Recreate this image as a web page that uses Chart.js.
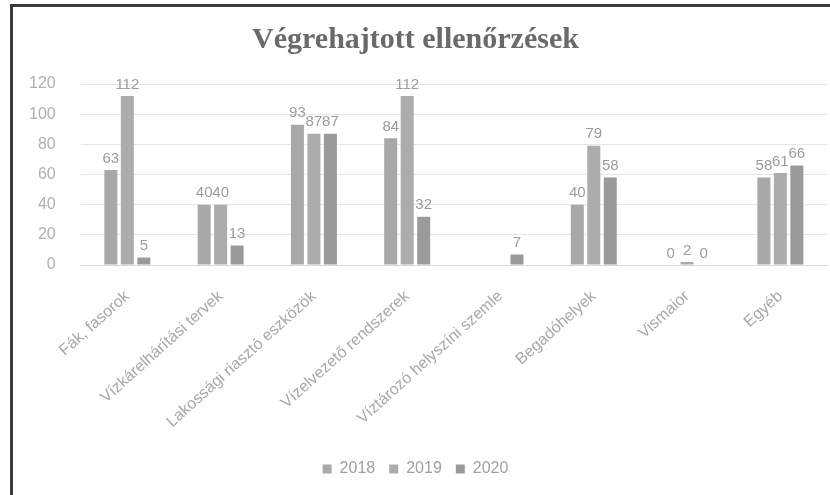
<!DOCTYPE html>
<html>
<head>
<meta charset="utf-8">
<script src="https://cdn.jsdelivr.net/npm/chart.js@4"></script>
<style>
body { margin: 0; background: #fff; }
#wrap { position: relative; width: 830px; height: 495px; overflow: hidden; }
#frame { position: absolute; left: 10px; top: 4px; width: 830px; height: 500px;
  border-left: 3px solid #3a3a3a; border-top: 3px solid #3a3a3a; pointer-events: none; }
</style>
</head>
<body>
<div id="wrap">
  <canvas id="chart" width="830" height="495"></canvas>
  <div id="frame"></div>
</div>
<script>
const CATEGORIES = ['Fák, fasorok', 'Vízkárelhárítási tervek', 'Lakossági riasztó eszközök',
  'Vízelvezető rendszerek', 'Víztározó helyszíni szemle', 'Begadóhelyek', 'Vismaior', 'Egyéb'];
const Y2018 = [63, 40, 93, 84, null, 40, 0, 58];
const Y2019 = [112, 40, 87, 112, null, 79, 2, 61];
const Y2020 = [5, 13, 87, 32, 7, 58, 0, 66];
const Y_MAX = 120;
const Y_STEP = 20;

const CHART = document.getElementById("chart");

// values above the bars
const valueLabels = {
    id: 'valueLabels',
    afterDatasetsDraw(chart) {
        const ctx = chart.ctx;
        ctx.save();
        ctx.font = '15px "Liberation Sans"';
        ctx.fillStyle = '#9c9c9c';
        ctx.textAlign = 'center';
        ctx.textBaseline = 'bottom';
        chart.data.datasets.forEach((ds, i) => {
            chart.getDatasetMeta(i).data.forEach((bar, j) => {
                const v = ds.data[j];
                if (v === null) return;
                ctx.fillText(String(v), bar.x, bar.y - 4);
            });
        });
        ctx.restore();
    }
};

const chart = new Chart(CHART, {
    type: 'bar',
    plugins: [valueLabels],
    data: {
        labels: CATEGORIES,
        datasets: [
            { label: '2018', data: Y2018, backgroundColor: '#a8a8a8' },
            { label: '2019', data: Y2019, backgroundColor: '#acacac' },
            { label: '2020', data: Y2020, backgroundColor: '#9a9a9a' }
        ]
    },
    options: {
        responsive: false,
        animation: false,
        categoryPercentage: 0.53,
        barPercentage: 0.79,
        layout: { padding: { top: 8, left: 4, right: 3, bottom: 8 } },
        plugins: {
            title: {
                display: true,
                text: 'Végrehajtott ellenőrzések',
                color: '#6a6a6a',
                font: { family: '"Liberation Serif"', size: 30, weight: 'bold' },
                padding: { top: 14, bottom: 26 }
            },
            legend: {
                position: 'bottom',
                labels: {
                    color: '#a0a0a0',
                    font: { family: '"Liberation Sans"', size: 16 },
                    boxWidth: 9,
                    boxHeight: 9,
                    padding: 14
                }
            },
            tooltip: { enabled: false }
        },
        scales: {
            x: {
                grid: { display: false },
                border: { color: '#d9d9d9' },
                afterFit(scale) { scale.height = 182; },
                ticks: {
                    color: '#a8a8a8',
                    font: { family: '"Liberation Sans"', size: 16 },
                    minRotation: 42,
                    maxRotation: 42,
                    padding: 14
                }
            },
            y: {
                min: 0,
                max: Y_MAX,
                border: { display: false },
                grid: { color: '#e6e6e6', drawTicks: false },
                ticks: {
                    stepSize: Y_STEP,
                    color: '#b0b0b0',
                    font: { family: '"Liberation Sans"', size: 16 },
                    padding: 25
                }
            }
        }
    }
});
console.log(chart.chartArea);
</script>
</body>
</html>
